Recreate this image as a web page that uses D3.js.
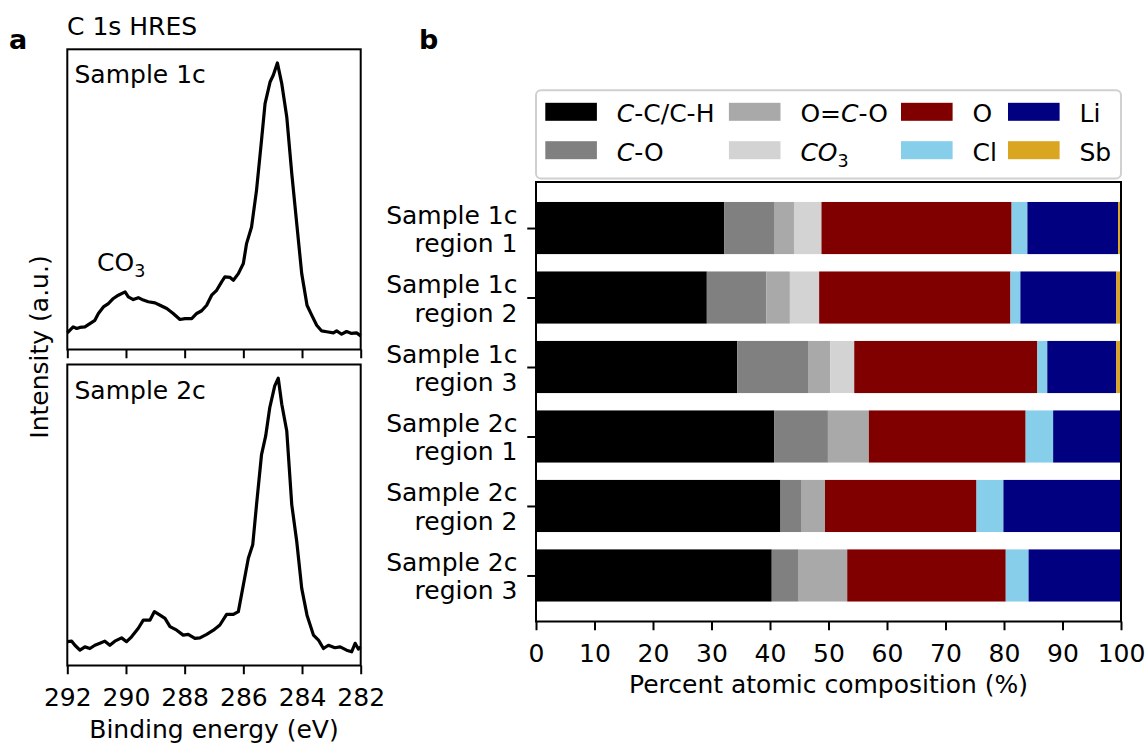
<!DOCTYPE html>
<html>
<head>
<meta charset="utf-8">
<script src="https://cdn.jsdelivr.net/npm/d3@7"></script>
<style>
  body { margin: 0; background: #fff; }
  text { font-family: "DejaVu Sans", sans-serif; fill: #000; }
</style>
</head>
<body>
<svg id="fig" width="1146" height="744"></svg>
<script>
// ---- data: C 1s spectra (binding energy, normalised intensity) ----
var energy1 = [292.00, 291.80, 291.68, 291.57, 291.40, 291.23, 291.06, 290.94, 290.77, 290.60,
               290.43, 290.26, 290.03, 289.92, 289.75, 289.58, 289.41, 289.24, 289.01, 288.84,
               288.61, 288.39, 288.16, 287.99, 287.76, 287.59, 287.42, 287.25, 287.08, 286.91,
               286.74, 286.63, 286.45, 286.34, 286.17, 286.00, 285.89, 285.72, 285.55, 285.38,
               285.26, 285.09, 284.98, 284.84, 284.69, 284.52, 284.35, 284.18, 284.01, 283.83,
               283.67, 283.50, 283.33, 283.16, 282.93, 282.82, 282.65, 282.48, 282.31, 282.14, 282.00];
var intensity1 = [0.011, 0.033, 0.027, 0.031, 0.033, 0.045, 0.057, 0.082, 0.106, 0.118,
                  0.137, 0.149, 0.161, 0.143, 0.133, 0.140, 0.131, 0.125, 0.121, 0.112,
                  0.100, 0.082, 0.060, 0.063, 0.063, 0.082, 0.092, 0.112, 0.149, 0.167,
                  0.198, 0.216, 0.214, 0.204, 0.228, 0.265, 0.338, 0.399, 0.534, 0.717,
                  0.851, 0.930, 0.955, 1.000, 0.924, 0.802, 0.595, 0.411, 0.228, 0.112,
                  0.076, 0.039, 0.018, 0.015, 0.011, 0.018, 0.006, 0.016, 0.009, 0.011, 0.000];

var energy2 = [292.00, 291.85, 291.74, 291.57, 291.40, 291.23, 291.06, 290.89, 290.72, 290.55,
               290.38, 290.15, 289.98, 289.81, 289.58, 289.41, 289.18, 289.03, 288.84, 288.67,
               288.50, 288.27, 288.05, 287.88, 287.65, 287.48, 287.25, 287.02, 286.80, 286.57,
               286.34, 286.17, 286.00, 285.83, 285.68, 285.55, 285.38, 285.24, 285.10, 284.93,
               284.81, 284.69, 284.52, 284.35, 284.18, 284.01, 283.83, 283.61, 283.44, 283.27,
               283.10, 282.88, 282.70, 282.48, 282.31, 282.19, 282.08, 282.00];
var intensity2 = [0.037, 0.039, 0.024, 0.006, 0.018, 0.012, 0.024, 0.031, 0.039, 0.024,
                  0.039, 0.051, 0.037, 0.055, 0.086, 0.116, 0.116, 0.147, 0.134, 0.122,
                  0.092, 0.079, 0.061, 0.064, 0.049, 0.051, 0.064, 0.079, 0.098, 0.137,
                  0.137, 0.147, 0.244, 0.342, 0.391, 0.538, 0.721, 0.788, 0.892, 0.972,
                  1.000, 0.905, 0.807, 0.538, 0.403, 0.232, 0.134, 0.061, 0.043, 0.012,
                  0.024, 0.015, 0.018, 0.006, 0.000, 0.031, 0.010, 0.018];

var energyTicks = [292, 290, 288, 286, 284, 282];

// ---- data: atomic composition (%) ----
var samples = ["Sample 1c\nregion 1", "Sample 1c\nregion 2", "Sample 1c\nregion 3",
               "Sample 2c\nregion 1", "Sample 2c\nregion 2", "Sample 2c\nregion 3"];
var ccch = [32.2, 29.2, 34.4, 40.7, 41.8, 40.3];
var co   = [8.6, 10.2, 12.1, 9.2, 3.5, 4.6];
var oco  = [3.3, 4.0, 3.8, 7.0, 4.1, 8.3];
var co3  = [4.7, 5.0, 4.1, 0, 0, 0];
var oxy  = [32.5, 32.7, 31.3, 26.8, 25.9, 27.1];
var cl   = [2.7, 1.7, 1.7, 4.7, 4.6, 3.9];
var li   = [15.5, 16.4, 11.8, 11.6, 20.1, 15.8];
var sb   = [0.5, 0.8, 0.8, 0, 0, 0];
var pctTicks = [0, 10, 20, 30, 40, 50, 60, 70, 80, 90, 100];

// legend labels as [text, style] pieces (i = italic, sub = subscript)
var compNames = ["ccch", "co", "oco", "co3", "oxy", "cl", "li", "sb"];
var compLabels = [
  [["C", "i"], ["-C/C-H", ""]],
  [["C", "i"], ["-O", ""]],
  [["O=", ""], ["C", "i"], ["-O", ""]],
  [["CO", "i"], ["3", "sub"]],
  [["O", ""]],
  [["Cl", ""]],
  [["Li", ""]],
  [["Sb", ""]]
];
var colors = ["#000000", "#808080", "#a9a9a9", "#d3d3d3", "#800000", "#87ceeb", "#000080", "#daa520"];

var FS = 25;
var svg = d3.select("#fig");

function richText(t, parts) {
  parts.forEach(function(p) {
    var s = t.append("tspan").text(p[0]);
    if (p[1] == "i") s.style("font-style", "italic");
    if (p[1] == "sub") s.attr("font-size", FS * 0.7).attr("dy", 6);
  });
}

function styleAxis(g) {
  g.select(".domain").remove();
  g.selectAll(".tick line").attr("stroke", "#000").attr("stroke-width", 2);
  g.selectAll(".tick text").attr("font-size", FS).attr("font-family", "DejaVu Sans").attr("fill", "#000");
}

// ================= panel a =================
var ax = { left: 67.3, right: 360.7 };
var xE = d3.scaleLinear().domain([292, 282]).range([ax.left, ax.right]);

function spectrum(top, bottom, en, inten, label, showTickLabels) {
  var y = d3.scaleLinear().domain([-0.05, 1.05]).range([bottom, top]);
  var pts = en.map(function(e, i) { return [e, inten[i]]; });

  svg.append("path")
    .datum(pts)
    .attr("fill", "none")
    .attr("stroke", "#000")
    .attr("stroke-width", 3.2)
    .attr("stroke-linejoin", "round")
    .attr("d", d3.line().x(function(d) { return xE(d[0]); }).y(function(d) { return y(d[1]); }));

  var g = svg.append("g")
    .attr("transform", "translate(0," + bottom + ")")
    .call(d3.axisBottom(xE).tickValues(energyTicks).tickSize(8.75).tickPadding(13.5)
      .tickFormat(showTickLabels ? d3.format("d") : function() { return ""; }));
  styleAxis(g);

  svg.append("rect")
    .attr("x", ax.left).attr("y", top)
    .attr("width", ax.right - ax.left).attr("height", bottom - top)
    .attr("fill", "none").attr("stroke", "#000").attr("stroke-width", 2);

  svg.append("text").attr("x", 74.5).attr("y", top + 34).attr("font-size", FS).text(label);
  return y;
}

spectrum(49.3, 349.5, energy1, intensity1, "Sample 1c", false);
spectrum(364.5, 665.5, energy2, intensity2, "Sample 2c", true);

var co3Label = svg.append("text").attr("x", 97).attr("y", 271).attr("font-size", FS);
richText(co3Label, [["CO", ""], ["3", "sub"]]);

svg.append("text").attr("x", 67).attr("y", 35).attr("font-size", FS).text("C 1s HRES");
svg.append("text").attr("x", 9).attr("y", 49).attr("font-size", 27).attr("font-weight", "bold").text("a");
svg.append("text").attr("x", 419).attr("y", 49).attr("font-size", 27).attr("font-weight", "bold").text("b");

svg.append("text")
  .attr("transform", "translate(47.5,347) rotate(-90)")
  .attr("text-anchor", "middle").attr("font-size", FS)
  .text("Intensity (a.u.)");
svg.append("text")
  .attr("x", (ax.left + ax.right) / 2).attr("y", 738)
  .attr("text-anchor", "middle").attr("font-size", FS)
  .text("Binding energy (eV)");

// ================= panel b =================
var bx = { left: 536, right: 1121, top: 182, bottom: 621.5 };
var xP = d3.scaleLinear().domain([0, 100]).range([bx.left, bx.right]);
var yP = d3.scaleLinear().domain([-0.6625, 5.6625]).range([bx.top, bx.bottom]);
var barH = 0.75;

var rows = samples.map(function(s, i) {
  return { sample: s, ccch: ccch[i], co: co[i], oco: oco[i], co3: co3[i],
           oxy: oxy[i], cl: cl[i], li: li[i], sb: sb[i], idx: i };
});
var stacked = d3.stack().keys(compNames)(rows);

svg.append("g").selectAll("g")
  .data(stacked)
  .enter().append("g")
    .attr("fill", function(d, i) { return colors[i]; })
  .selectAll("rect")
  .data(function(d) { return d; })
  .enter().append("rect")
    .attr("x", function(d) { return xP(d[0]); })
    .attr("width", function(d) { return xP(d[1]) - xP(d[0]); })
    .attr("y", function(d) { return yP(d.data.idx - barH / 2); })
    .attr("height", function(d) { return yP(d.data.idx + barH / 2) - yP(d.data.idx - barH / 2); });

var gx = svg.append("g")
  .attr("transform", "translate(0," + bx.bottom + ")")
  .call(d3.axisBottom(xP).tickValues(pctTicks).tickSize(8.75).tickPadding(13.5));
styleAxis(gx);

var gy = svg.append("g")
  .attr("transform", "translate(" + bx.left + ",0)")
  .call(d3.axisLeft(yP).tickValues(d3.range(samples.length)).tickSize(8.75).tickPadding(8.75)
    .tickFormat(function() { return ""; }));
styleAxis(gy);

samples.forEach(function(s, i) {
  var lines = s.split("\n");
  var t = svg.append("text")
    .attr("x", bx.left - 8.75 - 8.75 - 1)
    .attr("text-anchor", "end")
    .attr("font-size", FS);
  t.append("tspan").attr("x", bx.left - 18.5).attr("y", yP(i) - 4.5).text(lines[0]);
  t.append("tspan").attr("x", bx.left - 18.5).attr("y", yP(i) + 24).text(lines[1]);
});

svg.append("rect")
  .attr("x", bx.left).attr("y", bx.top)
  .attr("width", bx.right - bx.left).attr("height", bx.bottom - bx.top)
  .attr("fill", "none").attr("stroke", "#000").attr("stroke-width", 2);

svg.append("text")
  .attr("x", (bx.left + bx.right) / 2).attr("y", 693)
  .attr("text-anchor", "middle").attr("font-size", FS)
  .text("Percent atomic composition (%)");

// legend (4 columns x 2 rows, column-major)
svg.append("rect")
  .attr("x", bx.left).attr("y", 90.2)
  .attr("width", bx.right - bx.left).attr("height", 88.4)
  .attr("rx", 5)
  .attr("fill", "#fff").attr("stroke", "#d0d0d0").attr("stroke-width", 2);

var legCols = [545.3, 728.9, 901, 1008];
var legRows = [102.8, 141.2];
compNames.forEach(function(k, i) {
  var cx = legCols[Math.floor(i / 2)];
  var ry = legRows[i % 2];
  svg.append("rect")
    .attr("x", cx).attr("y", ry)
    .attr("width", 51.6).attr("height", 18)
    .attr("fill", colors[i]);
  var t = svg.append("text")
    .attr("x", cx + 71.5).attr("y", ry + 19.5)
    .attr("font-size", FS);
  richText(t, compLabels[i]);
});
</script>
</body>
</html>
